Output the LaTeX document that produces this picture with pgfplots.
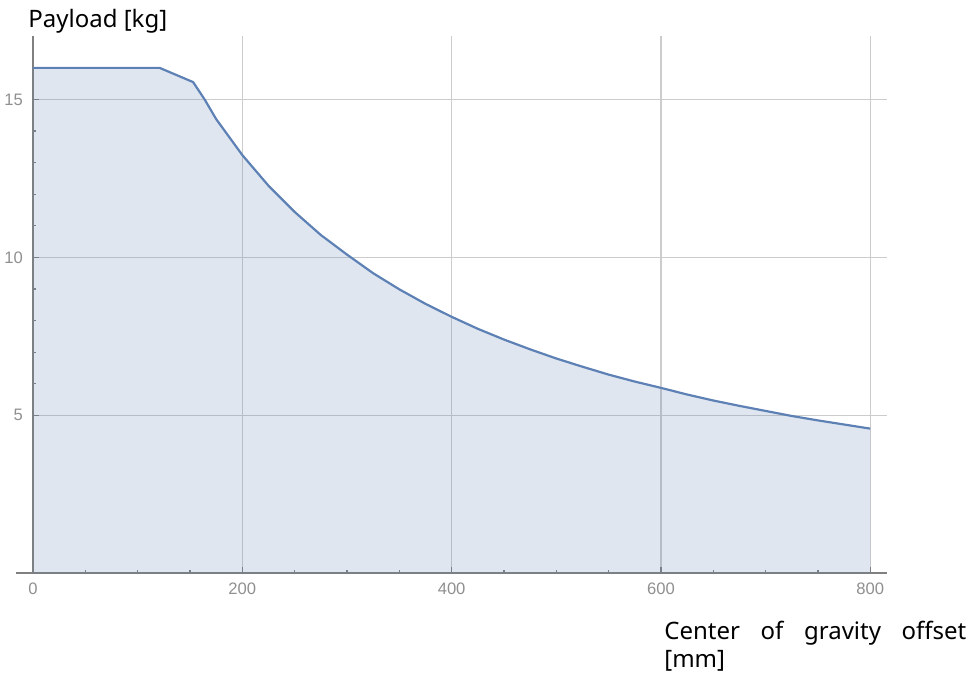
\documentclass[border=0pt]{standalone}
\usepackage{pgfplots}
\pgfplotsset{compat=1.18}
\usepackage{fontspec}
\setmainfont{Noto Sans}
\newfontfamily\tickfont{Liberation Sans}
\definecolor{linec}{HTML}{5E81B5}
\definecolor{gridc}{HTML}{CCCCCC}
\definecolor{axisc}{HTML}{808080}
\definecolor{tickc}{HTML}{8F8F8F}

\begin{document}
\begin{tikzpicture}
\useasboundingbox (0,0) rectangle (490pt,337pt);
\begin{axis}[
  at={(16.5pt,50.35pt)}, anchor=south west,
  scale only axis, width=427pt, height=268.5pt,
  xmin=0, xmax=816, ymin=0, ymax=17,
  axis x line*=bottom, axis y line*=left,
  xtick={0,200,400,600,800}, ytick={5,10,15},
  minor x tick num=3, minor y tick num=4,
  xtick pos=bottom, ytick pos=left,
  grid=major, major grid style={gridc, line width=0.6pt},
  axis line style={axisc, line width=0.8pt},
  x axis line style={shorten <=-8.5pt},
  tick style={axisc, line width=0.6pt},
  major tick length=3pt, minor tick length=1.6pt,
  tick align=inside,
  ticklabel style={font=\tickfont\fontsize{8.3}{9}\selectfont, text=tickc},
  xticklabel style={yshift=-1.2pt},
  yticklabel style={xshift=-1.5pt},
  /pgf/number format/assume math mode=true,
]
\addplot[draw=none, fill=linec, fill opacity=0.2] coordinates {
(0,16) (121,16) (153,15.55) (164,15.0) (175,14.38) (200,13.24) (225,12.27)
(250,11.44) (275,10.71) (300,10.09) (325,9.50) (350,8.99) (375,8.53)
(400,8.12) (425,7.74) (450,7.40) (475,7.09) (500,6.80) (525,6.54)
(550,6.29) (575,6.07) (600,5.87) (625,5.66) (650,5.47) (675,5.30)
(700,5.14) (725,4.98) (750,4.84) (775,4.71) (800,4.58)
} \closedcycle;
\addplot[linec, line width=1.1pt, line join=round] coordinates {
(0,16) (121,16) (153,15.55) (164,15.0) (175,14.38) (200,13.24) (225,12.27)
(250,11.44) (275,10.71) (300,10.09) (325,9.50) (350,8.99) (375,8.53)
(400,8.12) (425,7.74) (450,7.40) (475,7.09) (500,6.80) (525,6.54)
(550,6.29) (575,6.07) (600,5.87) (625,5.66) (650,5.47) (675,5.30)
(700,5.14) (725,4.98) (750,4.84) (775,4.71) (800,4.58)
};
\end{axis}
\node[anchor=base west, inner sep=0pt, font=\fontsize{12}{14}\selectfont] at (14pt,323pt) {Payload [kg]};
\node[anchor=base west, inner sep=0pt, font=\fontsize{12}{14}\selectfont] at (332pt,17pt) {\hbox to 151pt{Center\hfil of\hfil gravity\hfil offset}};
\node[anchor=base west, inner sep=0pt, font=\fontsize{12}{14}\selectfont] at (332pt,3pt) {[mm]};
\end{tikzpicture}
\end{document}
